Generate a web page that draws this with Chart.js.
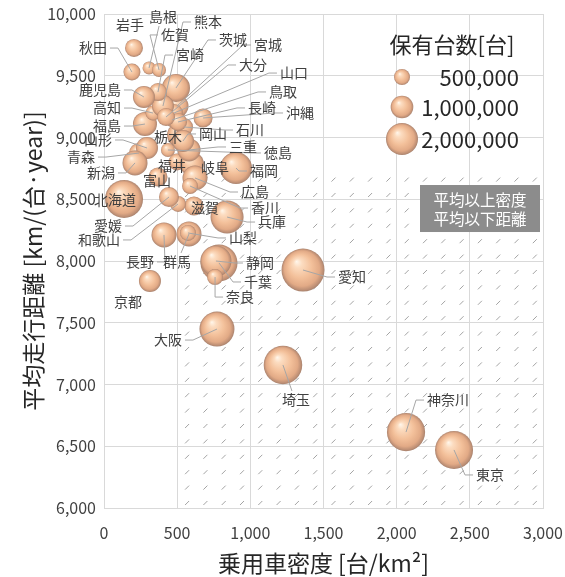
<!DOCTYPE html>
<html><head><meta charset="utf-8">
<script src="https://cdn.jsdelivr.net/npm/chart.js@4.4.1/dist/chart.umd.min.js"></script>
<style>html,body{margin:0;padding:0;background:#fff;}#wrap{width:565px;height:577px;}</style>
</head><body><div id="wrap"><canvas id="c" width="565" height="577"></canvas></div>
<script>
const FONT = "'Noto Sans CJK JP', 'Noto Sans', sans-serif";

const prefectures = ['北海道','青森','岩手','宮城','秋田','山形','福島','茨城','栃木','群馬','埼玉','千葉','東京','神奈川','新潟','富山','石川','福井','山梨','長野','岐阜','静岡','愛知','三重','滋賀','京都','大阪','兵庫','奈良','和歌山','鳥取','島根','岡山','広島','山口','徳島','香川','愛媛','高知','福岡','佐賀','長崎','熊本','大分','宮崎','鹿児島','沖縄'];
// 乗用車密度 [台/km2]
const carDensity = [137,239,205,499,191,294,280,492,513,581,1223,786,2392,2064,212,369,547,499,574,410,601,765,1360,581,615,314,772,841,759,506,465,308,540,622,478,437,588,444,335,902,376,506,403,424,369,273,677];
// 平均走行距離 [km/(台·year)]
const avgMileage = [8502,8874,9725,9255,9530,8915,9109,9401,9020,8219,7158,7984,6470,6615,8794,8680,9085,8802,8227,8211,8785,8000,7927,8899,8445,7838,7449,8356,7870,8462,9142,9563,8972,8672,9198,8899,8607,8518,9198,8753,9547,9126,9255,9166,9368,9328,9158];
// 保有台数 [台]
const carsOwned = [2820000,780000,630000,1030000,560000,945000,1125000,1530000,1125000,1220000,2900000,2670000,2820000,2850000,1220000,705000,633000,564000,500000,1220000,1125000,1880000,3610000,1030000,705000,945000,2390000,2130000,500000,500000,383000,330000,945000,1220000,633000,383000,500000,781000,440000,2000000,383000,633000,945000,633000,633000,945000,705000];

const legendSizes = [500000, 1000000, 2000000];
const legendTitle = '保有台数[台]';
const xTitle = '乗用車密度 [台/km²]';
const yTitle = '平均走行距離 [km/(台·year)]';
const xMin = 0, xMax = 3000, xStep = 500;
const yMin = 6000, yMax = 10000, yStep = 500;
const avgDensityAll = 520, avgMileageAll = 8680;
const quadrantNote = ['平均以上密度', '平均以下距離'];

// label placement (pixel offset from bubble centre, leader line flag)
const labelLayout = {
 '北海道':[-9,1,0],'青森':[-58,4,1],'岩手':[-4,-23,0],'宮城':[91,-61,1],'秋田':[-39,-24,1],'山形':[-49,-8,1],
 '福島':[-38,2,1],'茨城':[57,-48,1],'栃木':[-11,2,0],'群馬':[-12,28,1],'埼玉':[13,35,1],'千葉':[39,19,1],
 '東京':[36,25,1],'神奈川':[42,-32,1],'新潟':[-34,10,1],'富山':[-1,4,0],'石川':[66,3,1],'福井':[-5,4,0],
 '山梨':[55,5,1],'長野':[-24,27,1],'岐阜':[23,4,0],'静岡':[44,2,1],'愛知':[49,7,1],'三重':[54,-3,1],
 '滋賀':[11,2,0],'京都':[-22,21,0],'大阪':[-49,11,1],'兵庫':[45,5,1],'奈良':[25,20,1],'和歌山':[-79,36,1],
 '鳥取':[111,-28,1],'島根':[14,-51,1],'岡山':[30,-7,1],'広島':[60,14,1],'山口':[120,-40,1],'徳島':[110,3,1],
 '香川':[75,22,1],'愛媛':[-61,29,1],'高知':[-46,-5,1],'福岡':[28,3,1],'佐賀':[16,-35,1],'長崎':[84,-14,1],
 '熊本':[45,-84,1],'大分':[87,-52,1],'宮崎':[32,-37,1],'鹿児島':[-44,-7,1],'沖縄':[97,-5,1]
};

function bubbleRadius(v){ return 8 * Math.sqrt(v / 500000); }

function sphereGradient(ctx, x, y, r){
  if (!isFinite(x) || !isFinite(y) || !isFinite(r) || r <= 0) return '#f3c29e';
  const g = ctx.createRadialGradient(x - 0.3*r, y - 0.4*r, 0, x, y, r);
  g.addColorStop(0, '#fff7ec');
  g.addColorStop(0.2, '#fcdcc0');
  g.addColorStop(0.55, '#f3c09a');
  g.addColorStop(0.82, '#e2aa86');
  g.addColorStop(0.95, '#bd8f75');
  g.addColorStop(1, '#a7826e');
  return g;
}

const bubbleData = prefectures.map((p, i) => ({ x: carDensity[i], y: avgMileage[i], r: bubbleRadius(carsOwned[i]) }));

const hatchPlugin = {
  id: 'hatch',
  beforeDatasetsDraw(chart){
    const ctx = chart.ctx, xs = chart.scales.x, ys = chart.scales.y;
    const x0 = xs.getPixelForValue(avgDensityAll), x1 = xs.getPixelForValue(xMax);
    const y0 = ys.getPixelForValue(avgMileageAll), y1 = ys.getPixelForValue(yMin);
    ctx.save();
    ctx.beginPath(); ctx.rect(x0, y0, x1 - x0, y1 - y0); ctx.clip();
    ctx.strokeStyle = '#a3a3a3'; ctx.lineWidth = 1;
    ctx.beginPath();
    for (let y = y1 - 3; y > y0 - 10; y -= 15.4) {
      for (let x = x0 + 5; x < x1 + 10; x += 18.3) {
        ctx.moveTo(x, y); ctx.lineTo(x + 4, y - 4);
      }
    }
    ctx.stroke();
    ctx.restore();
  }
};

const annotatePlugin = {
  id: 'annotate',
  afterDatasetsDraw(chart){
    const ctx = chart.ctx, meta = chart.getDatasetMeta(0);
    const xs = chart.scales.x, ys = chart.scales.y;
    ctx.save();
    ctx.font = '14px ' + FONT;
    ctx.strokeStyle = '#a6a6a6'; ctx.lineWidth = 1;
    meta.data.forEach((el, i) => {
      const name = prefectures[i];
      const [dx, dy, lead] = labelLayout[name];
      if (!lead) return;
      const lx = el.x + dx, ly = el.y + dy;
      const w = ctx.measureText(name).width;
      ctx.beginPath();
      if (Math.abs(dx) < w/2 + 2) {
        const sy = ly + (dy > 0 ? -9 : 9);
        ctx.moveTo(lx - (dx > 0 ? 4 : -4), sy);
        ctx.lineTo(el.x, el.y);
      } else {
        const sx = lx + (dx > 0 ? -(w/2 + 3) : (w/2 + 3));
        const ex = sx + (dx > 0 ? -8 : 8);
        ctx.moveTo(sx, ly); ctx.lineTo(ex, ly); ctx.lineTo(el.x, el.y);
      }
      ctx.stroke();
    });
    ctx.fillStyle = '#404040'; ctx.textAlign = 'center'; ctx.textBaseline = 'middle';
    meta.data.forEach((el, i) => {
      const name = prefectures[i];
      const [dx, dy] = labelLayout[name];
      ctx.fillText(name, el.x + dx, el.y + dy);
    });
    const bx1 = xs.getPixelForValue(xMax) - 3, bw = 120, bh = 47;
    const by0 = ys.getPixelForValue(avgMileageAll) + 8;
    ctx.fillStyle = '#8c8c8c';
    ctx.fillRect(bx1 - bw, by0, bw, bh);
    ctx.fillStyle = '#ffffff'; ctx.font = '15.5px ' + FONT;
    ctx.fillText(quadrantNote[0], bx1 - bw/2, by0 + 15);
    ctx.fillText(quadrantNote[1], bx1 - bw/2, by0 + 34);
    ctx.restore();
  },
  afterDraw(chart){
    const ctx = chart.ctx, ca = chart.chartArea;
    const cx = ca.right - 91;
    ctx.save();
    ctx.fillStyle = '#262626';
    ctx.font = '22px ' + FONT; ctx.textAlign = 'center'; ctx.textBaseline = 'middle';
    ctx.fillText(legendTitle, cx, ca.top + 31);
    const rowsY = [ca.top + 63, ca.top + 93, ca.top + 125];
    legendSizes.forEach((v, k) => {
      const r = bubbleRadius(v), sx = ca.right - 141, sy = rowsY[k];
      ctx.beginPath(); ctx.arc(sx, sy, r, 0, Math.PI*2);
      ctx.fillStyle = sphereGradient(ctx, sx, sy, r); ctx.fill();
      ctx.fillStyle = '#262626'; ctx.textAlign = 'right'; ctx.font = '22px ' + FONT;
      ctx.fillText(v.toLocaleString('en-US'), ca.right - 24, sy + 1);
    });
    ctx.restore();
  }
};

new Chart(document.getElementById('c'), {
  type: 'bubble',
  data: { datasets: [{
    label: legendTitle,
    data: bubbleData,
    borderWidth: 0,
    borderColor: 'rgba(0,0,0,0)',
    backgroundColor: (c) => {
      if (c.type !== 'data' || !c.raw) return '#f3c29e';
      const ch = c.chart;
      if (!ch.scales || !ch.scales.x || !ch.scales.y) return '#f3c29e';
      const x = ch.scales.x.getPixelForValue(c.raw.x), y = ch.scales.y.getPixelForValue(c.raw.y);
      return sphereGradient(ch.ctx, x, y, c.raw.r);
    }
  }]},
  options: {
    responsive: false, animation: false, devicePixelRatio: 1, events: [],
    layout: { autoPadding: false, padding: { left: 0, right: 22, top: 14, bottom: 0 } },
    plugins: { legend: { display: false }, tooltip: { enabled: false } },
    scales: {
      x: {
        type: 'linear', min: xMin, max: xMax,
        afterFit: (s) => { s.height = 69; s.paddingLeft = 0; s.paddingRight = 0; },
        ticks: { stepSize: xStep, padding: 15, color: '#404040', font: { family: FONT, size: 16 },
          callback: (v) => v.toLocaleString('en-US') },
        grid: { color: '#d9d9d9', drawTicks: false },
        border: { color: '#d9d9d9' },
        title: { display: true, text: xTitle, color: '#262626', font: { family: FONT, size: 23 }, padding: { top: 0, bottom: 0 } }
      },
      y: {
        type: 'linear', min: yMin, max: yMax,
        afterFit: (s) => { s.width = 104; s.paddingTop = 0; s.paddingBottom = 0; },
        ticks: { stepSize: yStep, padding: 8, color: '#404040', font: { family: FONT, size: 16 },
          callback: (v) => v.toLocaleString('en-US') },
        grid: { color: '#d9d9d9', drawTicks: false },
        border: { color: '#d9d9d9' },
        title: { display: true, text: yTitle, color: '#262626', font: { family: FONT, size: 23 }, padding: { top: 19, bottom: 0 } }
      }
    }
  },
  plugins: [hatchPlugin, annotatePlugin]
});
</script></body></html>
